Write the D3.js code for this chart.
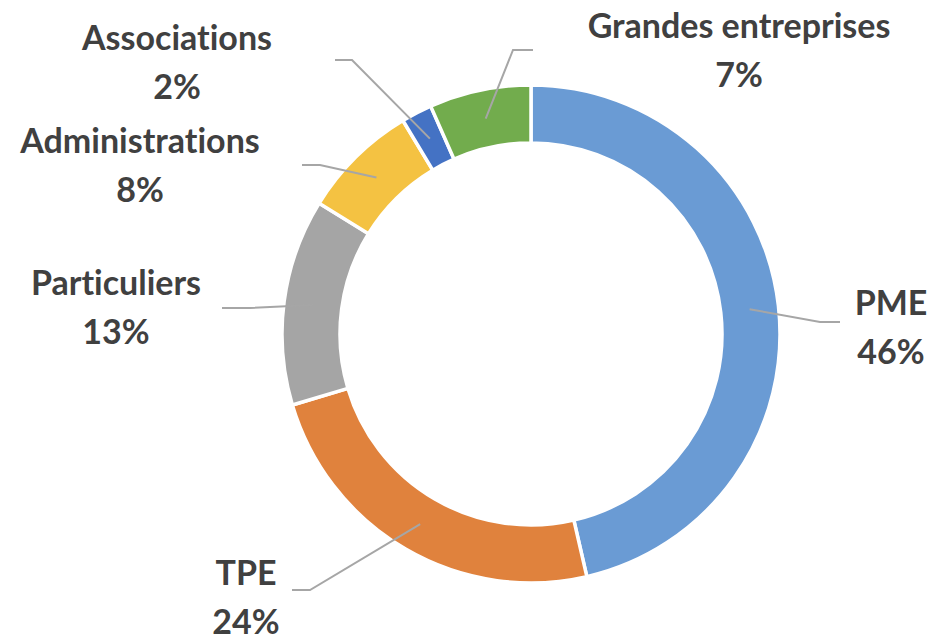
<!DOCTYPE html>
<html>
<head>
<meta charset="utf-8">
<script src="https://cdn.jsdelivr.net/npm/d3@7"></script>
<style>
  body { margin: 0; background: #fff; }
  .lbl { font-family: Lato, "Open Sans", sans-serif; font-weight: 700; font-size: 34px; fill: #404040; font-variant-ligatures: none; }
</style>
</head>
<body>
<svg width="934" height="640"></svg>
<script>
// data
const categories = ["PME", "TPE", "Particuliers", "Administrations", "Associations", "Grandes entreprises"];
const shares = [46.4, 24.0, 13.4, 7.6, 2.0, 6.6];
const colors = ["#6a9bd4", "#e0823d", "#a5a5a5", "#f4c242", "#4472c4", "#72ac4d"];

// label layout, relative to the donut centre: [labelX, labelY, elbowX, elbowY, endX, endY]
const labelLayout = [
  [360, -19, 289, -12, 309, -12],
  [-285, 251, -221, 256, -239, 256],
  [-415, -39, -281, -26, -309, -26],
  [-391, -181, -211, -169, -229, -169],
  [-354, -284, -179, -274, -196, -274],
  [208, -296, -18, -284, 2, -284]
];

var svg = d3.select("svg"),
    cx = 531,
    cy = 334,
    outerR = 249,
    innerR = 191;

var g = svg.append("g")
    .attr("transform", "translate(" + cx + "," + cy + ")");

var pie = d3.pie().sort(null);
var arc = d3.arc().outerRadius(outerR).innerRadius(innerR);
var mid = d3.arc().outerRadius((outerR + innerR) / 2).innerRadius((outerR + innerR) / 2);

var arcs = pie(shares);

g.selectAll("path.slice")
    .data(arcs).enter().append("path")
    .attr("class", "slice")
    .attr("d", arc)
    .attr("fill", (d, i) => colors[i])
    .attr("stroke", "#fff")
    .attr("stroke-width", 3.5);

// leader lines
g.selectAll("polyline")
    .data(arcs).enter().append("polyline")
    .attr("points", function (d, i) {
      var c = mid.centroid(d), L = labelLayout[i];
      return [c, [L[2], L[3]], [L[4], L[5]]].map(p => p.join(",")).join(" ");
    })
    .attr("fill", "none")
    .attr("stroke", "#a6a6a6")
    .attr("stroke-width", 2);

var labels = g.selectAll("text.lbl")
    .data(arcs).enter().append("text")
    .attr("class", "lbl")
    .attr("text-anchor", "middle")
    .attr("x", (d, i) => labelLayout[i][0])
    .attr("y", (d, i) => labelLayout[i][1]);

labels.append("tspan")
    .attr("x", (d, i) => labelLayout[i][0])
    .text((d, i) => categories[i]);

labels.append("tspan")
    .attr("x", (d, i) => labelLayout[i][0])
    .attr("dy", 49)
    .text(d => Math.round(d.data) + "%");
</script>
</body>
</html>
